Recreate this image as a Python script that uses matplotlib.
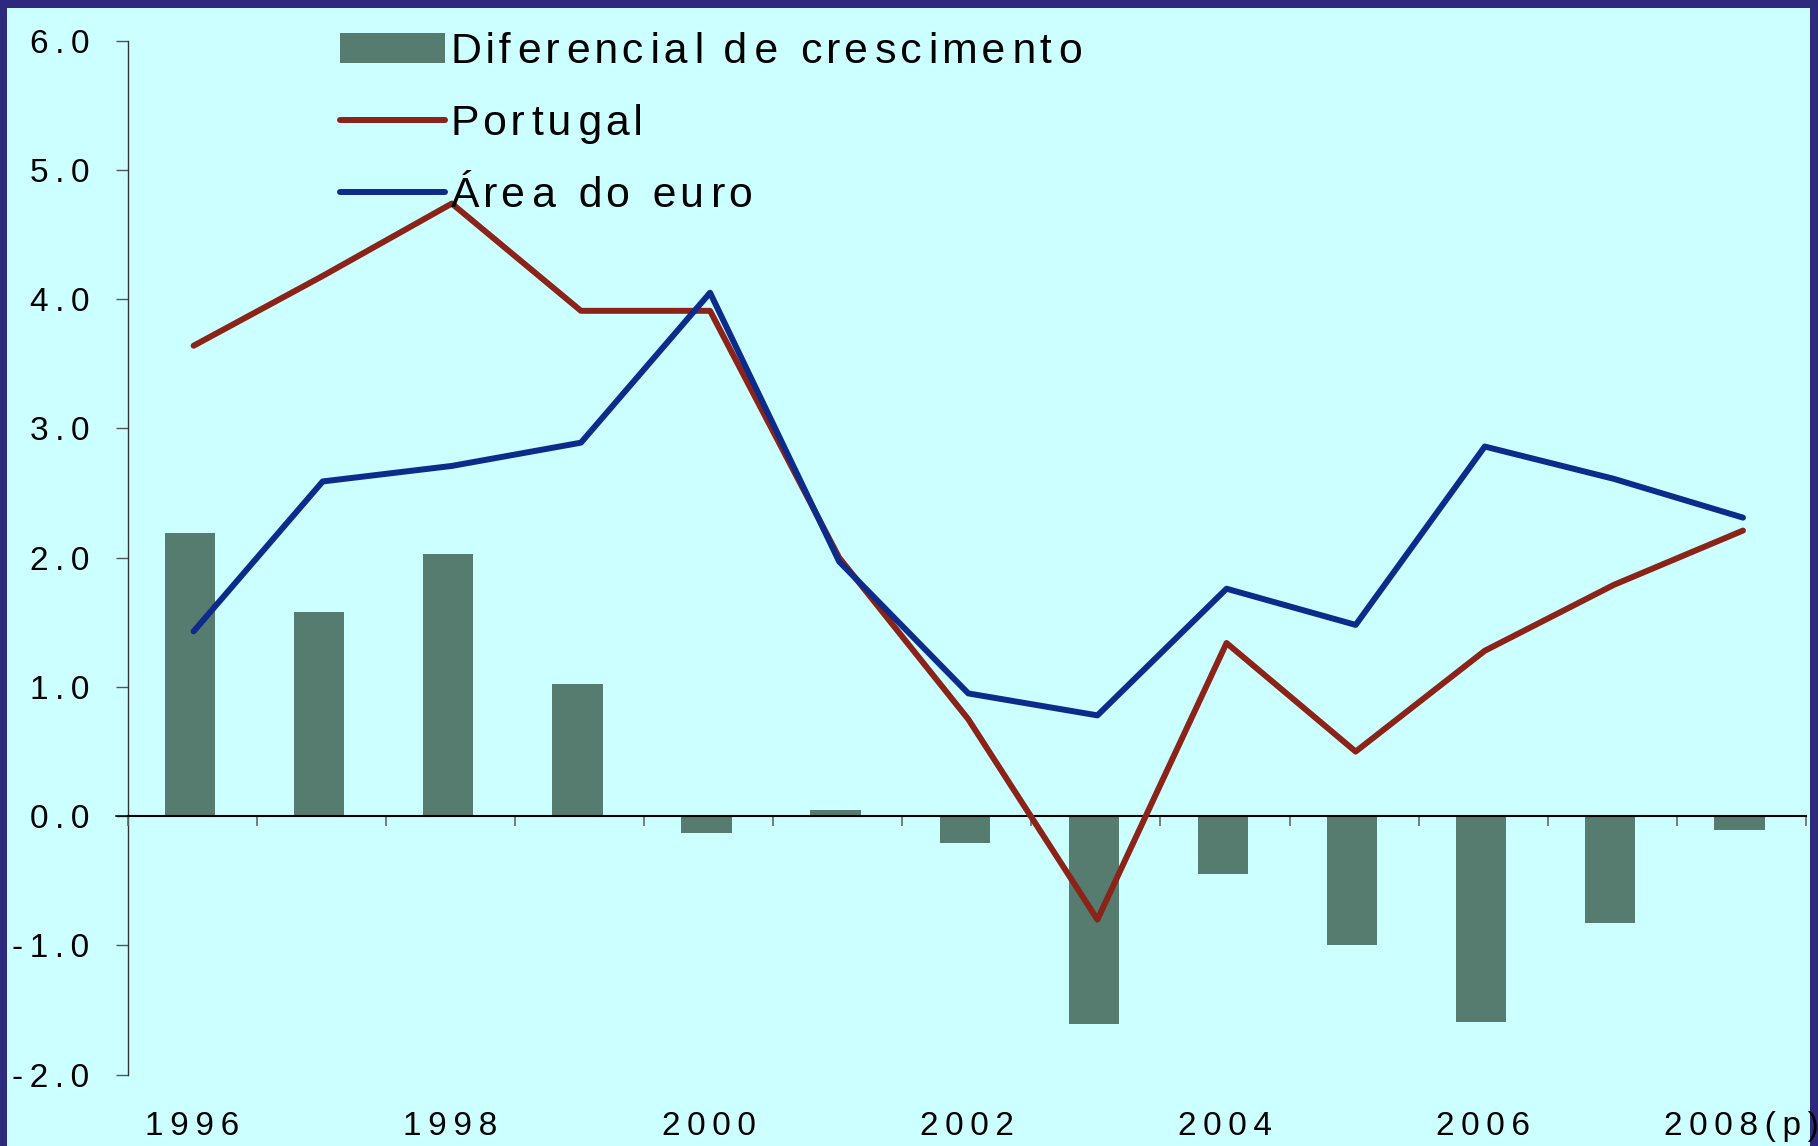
import numpy as np
import matplotlib
matplotlib.use("Agg")
import matplotlib.pyplot as plt
from matplotlib.patches import Rectangle

plt.rcParams['font.family'] = ['Liberation Sans', 'DejaVu Sans']

# ---- data ----
years = ['1996', '1997', '1998', '1999', '2000', '2001', '2002',
         '2003', '2004', '2005', '2006', '2007', '2008(p)']
diferencial = [2.19, 1.58, 2.03, 1.02, -0.13, 0.05, -0.21,
               -1.61, -0.45, -1.00, -1.59, -0.83, -0.11]
portugal = [3.64, 4.18, 4.74, 3.91, 3.91, 2.00, 0.75,
            -0.80, 1.34, 0.50, 1.28, 1.79, 2.21]
area_euro = [1.43, 2.59, 2.71, 2.89, 4.05, 1.97, 0.95,
             0.78, 1.76, 1.48, 2.86, 2.61, 2.31]
y_ticks = [-2.0, -1.0, 0.0, 1.0, 2.0, 3.0, 4.0, 5.0, 6.0]
legend_labels = ['Diferencial de crescimento', 'Portugal', 'Área do euro']

THIN = '\u2009'
HAIR = '\u200a'


def spaced(s, sp):
    return sp.join(list(s))


def spaced_hair(s, extra=0.4):
    # letter-spacing made of hair spaces; some gaps get a second one
    out = s[0]
    for i, ch in enumerate(s[1:]):
        n = 1 + int((i + 1) * extra) - int(i * extra)
        out += HAIR * n + ch
    return out


W, H = 1818, 1146
fig = plt.figure(figsize=(W / 100, H / 100), dpi=100, facecolor='#2D2A7E')
fig.add_artist(Rectangle((7 / W, 0), (1810 - 7) / W, (H - 8) / H,
                         transform=fig.transFigure, facecolor='#CCFFFF',
                         edgecolor='none', zorder=0))

left, right, top, bottom = 127.5, 1806, 40.7, 1074.7
ax = fig.add_axes([left / W, (H - bottom) / H, (right - left) / W, (bottom - top) / H])
ax.set_facecolor('none')
x = np.arange(len(years))

bars = ax.bar(x - 0.016, diferencial, width=0.39, color='#567C6F', zorder=2)
l_pt, = ax.plot(x + 0.012, portugal, color='#8B2318', lw=4.3, solid_capstyle='round',
                solid_joinstyle='round', zorder=4)
l_eu, = ax.plot(x + 0.012, area_euro, color='#0D2B8A', lw=4.3, solid_capstyle='round',
                solid_joinstyle='round', zorder=4)

ax.set_xlim(-0.5, len(years) - 0.5)
ax.set_ylim(-2, 6)

for s in ['top', 'right', 'bottom']:
    ax.spines[s].set_visible(False)
ax.spines['left'].set_color('#333333')
ax.spines['left'].set_linewidth(1.0)

ax.set_yticks(y_ticks)
ax.set_yticklabels([spaced(f'{v:.1f}', THIN) for v in y_ticks])
ax.tick_params(axis='y', direction='out', length=8.6, width=1.0, color='#555555',
               pad=19, labelsize=24)

ax.set_xticks(x)
ax.set_xticklabels([spaced(y, THIN) if i % 2 == 0 else '' for i, y in enumerate(years)])
ax.tick_params(axis='x', length=0, pad=26, labelsize=24)

# zero line with category-boundary ticks
sec = ax.secondary_xaxis(0, transform=ax.transData)
sec.set_xticks(np.arange(-0.5, len(years), 1.0))
sec.tick_params(axis='x', direction='out', length=7.2, width=1.2, color='#666666',
                labelbottom=False, labeltop=False)
sec.spines['bottom'].set_color('black')
sec.spines['bottom'].set_linewidth(1.5)
sec.set_zorder(3)
# small stub of the zero line left of the value axis
ax.axhline(0, xmin=-12 / (right - left), xmax=0, color='black', lw=1.1,
           clip_on=False, zorder=3)

leg = ax.legend([bars, l_pt, l_eu], [spaced_hair(t) for t in legend_labels],
                loc='upper left', bbox_to_anchor=(340 / W, 1 - 32 / H),
                bbox_transform=fig.transFigure, frameon=False, borderpad=0,
                borderaxespad=0, fontsize=30.8, handlelength=2.45,
                handleheight=0.7, handletextpad=0.15, labelspacing=0.75)

fig.savefig('out.png', dpi=100, facecolor=fig.get_facecolor())
